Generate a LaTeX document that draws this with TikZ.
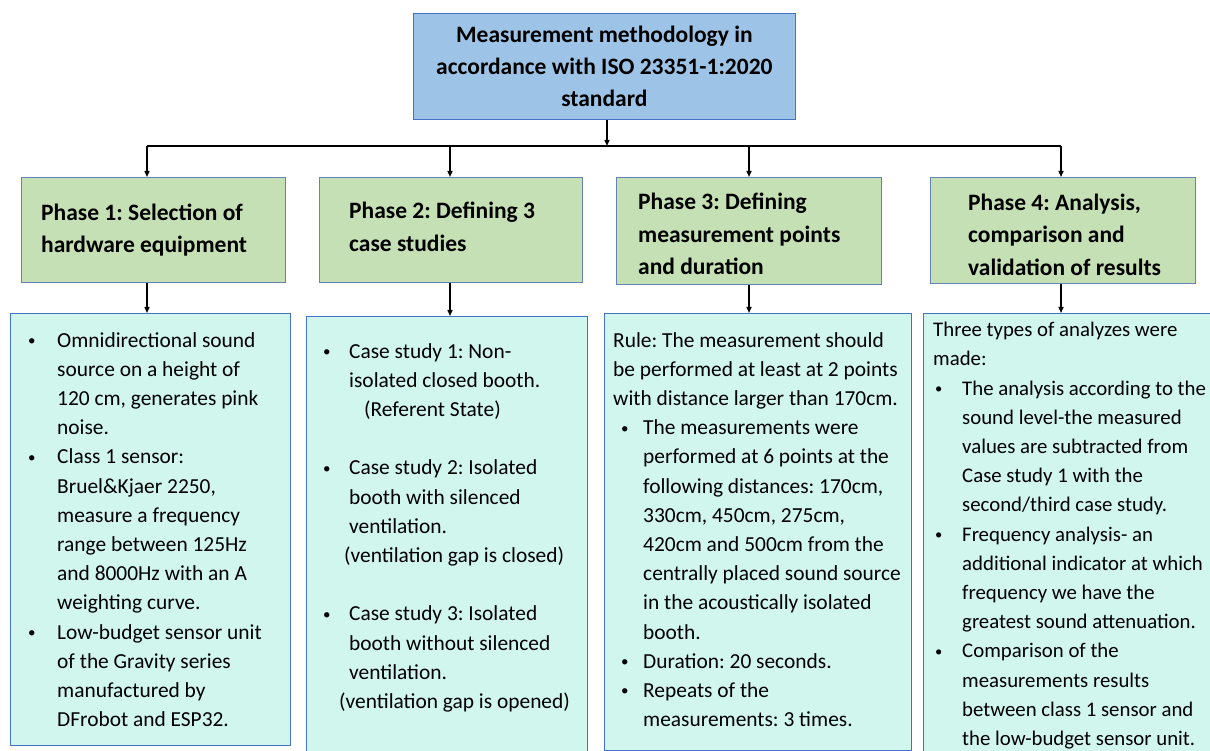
\documentclass[tikz,border=0pt]{standalone}
\usepackage{fontspec}
\setmainfont{Carlito}
\usepackage{xcolor}
\usepackage{graphicx}
\usetikzlibrary{arrows.meta, positioning, calc}
\frenchspacing
\definecolor{topblue}{RGB}{157,195,230}
\definecolor{phgreen}{RGB}{197,224,180}
\definecolor{boxcyan}{RGB}{208,246,238}
\definecolor{edgeblue}{RGB}{68,114,196}
\definecolor{edgegrey}{RGB}{100,130,180}
\tikzset{
  topblk/.style ={rectangle, draw=edgeblue, fill=topblue, line width=0.8pt, anchor=north west,
                  align=center, inner sep=0pt, font=\fontsize{23.5}{32}\selectfont\bfseries},
  phblk/.style  ={rectangle, draw=edgegrey, fill=phgreen, line width=0.8pt, anchor=north west, inner sep=0pt},
  infoblk/.style={rectangle, draw=edgeblue, fill=boxcyan, line width=0.8pt, anchor=north west, inner sep=0pt},
  hdr/.style    ={anchor=west, align=left, inner sep=0pt, font=\fontsize{23.5}{32.5}\selectfont\bfseries},
  txt/.style    ={anchor=north west, align=left, inner sep=0pt, font=\fontsize{21.4}{29.2}\selectfont},
  ar/.style     ={-{Triangle[length=6pt,width=5pt]}, line width=1.4pt},
}
\newcommand{\bul}[1]{\makebox[#1pt][l]{\raisebox{1.5pt}{\scalebox{0.7}{•}}}}
\newcommand{\ind}[1]{\hspace*{#1pt}}

\begin{document}
\begin{tikzpicture}[x=1pt, y=-1pt]
\useasboundingbox (0,0) rectangle (1210,751);
% top and phases
\node[topblk, minimum width=382pt, minimum height=106pt] (top) at (413,13)
  {Measurement methodology in\\accordance with ISO 23351-1:2020\\standard};
\node[phblk, minimum width=264pt, minimum height=105pt] (p1) at (21,177) {};
\node[phblk, minimum width=263pt, minimum height=105pt] (p2) at (319,177) {};
\node[phblk, minimum width=265pt, minimum height=107pt] (p3) at (616,177) {};
\node[phblk, minimum width=265pt, minimum height=106pt] (p4) at (930,177) {};
\node[hdr] (p1t) at ($(p1.west)+(20,0)$) {Phase 1: Selection of\\hardware equipment};
\node[hdr] (p2t) at ($(p2.west)+(30,-3)$) {Phase 2: Defining 3\\case studies};
\node[hdr] (p3t) at ($(p3.west)+(22,3)$) {Phase 3: Defining\\measurement points\\and duration};
\node[hdr] (p4t) at ($(p4.west)+(38,4)$) {Phase 4: Analysis,\\comparison and\\validation of results};
% content boxes
\node[infoblk, minimum width=280pt, minimum height=432pt] (c1) at (10,313) {};
\node[infoblk, minimum width=281pt, minimum height=438pt] (c2) at (306,316) {};
\node[infoblk, minimum width=307pt, minimum height=437pt] (c3) at (604,313) {};
\node[infoblk, minimum width=300pt, minimum height=445pt] (c4) at (923,313) {};
\node[txt] (c1t) at (28,332) {\bul{29}Omnidirectional sound\\\ind{29}source on a height of\\
  \ind{29}120 cm, generates pink\\\ind{29}noise.\\\bul{29}Class 1 sensor:\\
  \ind{29}Bruel\&Kjaer 2250,\\\ind{29}measure a frequency\\\ind{29}range between 125Hz\\
  \ind{29}and 8000Hz with an A\\\ind{29}weighting curve.\\\bul{29}Low-budget sensor unit\\
  \ind{29}of the Gravity series\\\ind{29}manufactured by\\\ind{29}DFrobot and ESP32.};
\node[txt] (c2t) at (323,343) {\bul{26}Case study 1: Non-\\\ind{26}isolated closed booth.\\
  \ind{41}(Referent State)\\~\\\bul{26}Case study 2: Isolated\\\ind{26}booth with silenced\\
  \ind{26}ventilation.\\\ind{21}(ventilation gap is closed)\\~\\\bul{26}Case study 3: Isolated\\
  \ind{26}booth without silenced\\\ind{26}ventilation.\\\ind{16}(ventilation gap is opened)};
\node[txt] (c3t) at (613,332) {Rule: The measurement should\\be performed at least at 2 points\\
  with distance larger than 170cm.\\\ind{8}\bul{22}The measurements were\\
  \ind{30}performed at 6 points at the\\\ind{30}following distances: 170cm,\\
  \ind{30}330cm, 450cm, 275cm,\\\ind{30}420cm and 500cm from the\\
  \ind{30}centrally placed sound source\\\ind{30}in the acoustically isolated\\
  \ind{30}booth.\\\ind{8}\bul{22}Duration: 20 seconds.\\\ind{8}\bul{22}Repeats of the\\
  \ind{30}measurements: 3 times.};
\node[txt, font=\fontsize{20.8}{29.2}\selectfont] (c4t) at (933,322) {Three types of analyzes were\\made:\\
  \ind{2}\bul{27}The analysis according to the\\\ind{29}sound level-the measured\\
  \ind{29}values are subtracted from\\\ind{29}Case study 1 with the\\
  \ind{29}second/third case study.\\\ind{2}\bul{27}Frequency analysis- an\\
  \ind{29}additional indicator at which\\\ind{29}frequency we have the\\
  \ind{29}greatest sound attenuation.\\\ind{2}\bul{27}Comparison of the\\
  \ind{29}measurements results\\\ind{29}between class 1 sensor and\\
  \ind{29}the low-budget sensor unit.};
% connectors
\coordinate (hub) at (607,146);
\coordinate (b1) at (147,146);
\coordinate (b2) at (450,146);
\coordinate (b3) at (749,146);
\coordinate (b4) at (1061,146);
\draw[ar] (top.south -| hub) -- (hub);
\draw[line width=1.4pt] (b1) -- (b4);
\foreach \i in {1,2,3,4} {
  \draw[ar] (b\i) -- (b\i |- p\i.north);
  \draw[ar] (b\i |- p\i.south) -- (b\i |- c\i.north);
}
\end{tikzpicture}
\end{document}
